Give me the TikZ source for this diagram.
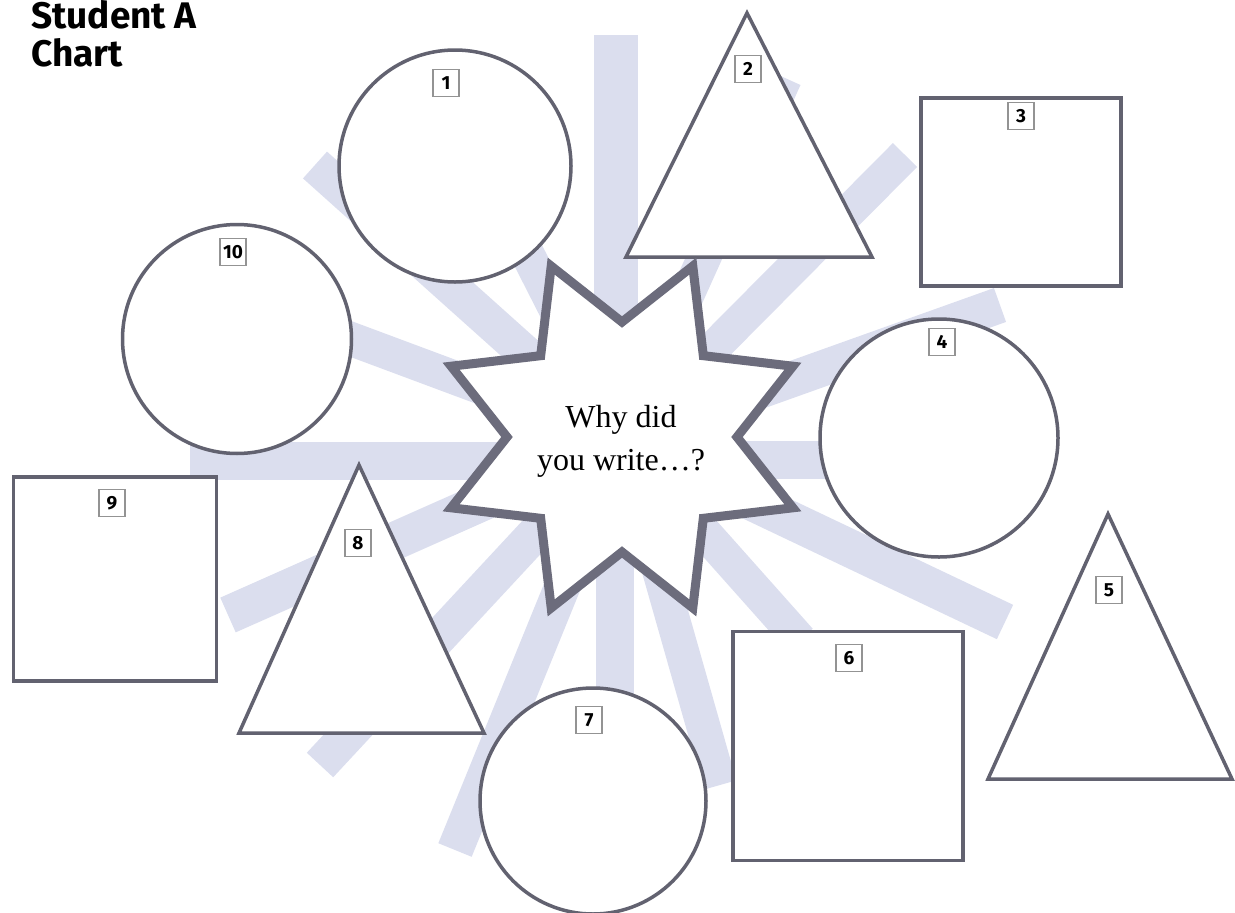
\documentclass[tikz,border=0pt]{standalone}
\usepackage{fontspec}
\setmainfont{Liberation Serif}
\newfontfamily\labelfont{Fira Sans}
\usepackage{tikz}
\usetikzlibrary{positioning}
\usepackage{xcolor}

\definecolor{raylav}{RGB}{219,222,238}
\definecolor{edgegray}{RGB}{98,98,112}
\definecolor{stargray}{RGB}{108,108,124}

\tikzset{
  ray/.style={raylav, line cap=butt},
  outline/.style={draw=edgegray, line width=3.5pt, fill=white, line join=miter},
  numbox/.style={draw=gray!85, line width=1.3pt, fill=white, minimum width=26pt,
    minimum height=27pt, inner sep=2pt, font=\labelfont\bfseries\fontsize{19}{19}\selectfont},
  titletext/.style={anchor=base west, inner sep=0pt, font=\labelfont\bfseries\fontsize{37}{44}\selectfont}
}

\begin{document}
\begin{tikzpicture}[x=1pt, y=-1pt]
    \useasboundingbox (0,0) rectangle (1235,913);

    % Title
    \node[titletext] (title) at (31,28) {Student A};
    \node[titletext] (chart) at (31,66) {Chart};

    % Background rays
    \coordinate (hub) at (622,440);
    \foreach \sx/\sy/\ex/\ey/\w in {616/440/616/35/44, 622/440/785/78/34, 622/440/905/155/34,
        622/440/1000/305/36, 622/460/900/460/38, 622/440/1005/622/38, 622/440/800/640/34,
        622/440/720/785/34, 615/440/615/700/38, 622/440/455/850/36, 622/440/320/765/36,
        622/440/228/615/38, 622/461/190/461/38, 622/440/300/320/34, 622/440/315/165/36,
        622/440/500/200/34} {
        \draw[ray, line width=\w pt] (\sx,\sy) -- (\ex,\ey);
    }

    % Circles
    \node[outline, circle, minimum size=232pt] (c1) at (455,166) {};
    \node[outline, circle, minimum size=238pt] (c4) at (939,438) {};
    \node[outline, circle, minimum size=226pt] (c7) at (593,801) {};
    \node[outline, circle, minimum size=229pt] (c10) at (237,339) {};

    % Squares
    \node[outline, rectangle, minimum width=200pt, minimum height=188pt] (s3) at (1021,192) {};
    \node[outline, rectangle, minimum width=230pt, minimum height=229pt] (s6) at (848,746) {};
    \node[outline, rectangle, minimum width=203pt, minimum height=204pt] (s9) at (115,579) {};

    % Triangles
    \draw[outline] (747,13) -- (872,257) -- (626,257) -- cycle;
    \draw[outline] (1108,514) -- (1232,779) -- (988,779) -- cycle;
    \draw[outline] (359,465) -- (484,733) -- (239,733) -- cycle;

    % Star
    \draw[draw=stargray, line width=9pt, fill=white, line join=miter, shift={(622,437)}]
        (-22.5:185) \foreach \a in {0,45,...,315} { -- (\a:115) -- ({\a+22.5}:185) } -- cycle;
    \node[align=center, font=\fontsize{32}{43}\selectfont] (question) at (621,441)
        {Why did\\you write…?};

    % Number labels
    \foreach \n/\x/\y in {1/446/83, 2/748/69, 3/1021/116, 4/942/342, 5/1109/590,
        6/849/658, 7/589/720, 8/358/543, 9/112/503, 10/233/252} {
        \node[numbox] (n\n) at (\x,\y) {\n};
    }
\end{tikzpicture}
\end{document}
